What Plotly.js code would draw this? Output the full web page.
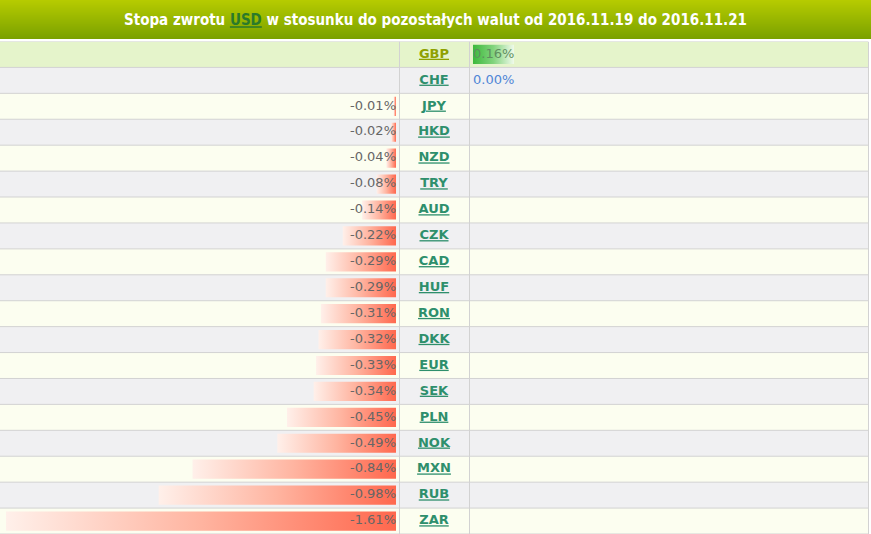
<!DOCTYPE html>
<html>
<head>
<meta charset="utf-8">
<script src="https://cdn.plot.ly/plotly-3.0.1.min.js"></script>
<style>html,body{margin:0;padding:0;background:#fff;}#chart{width:871px;height:534px;}</style>
</head>
<body>
<div id="chart"></div>
<script>
// ---- data ----
const currencies = ['GBP','CHF','JPY','HKD','NZD','TRY','AUD','CZK','CAD','HUF','RON','DKK','EUR','SEK','PLN','NOK','MXN','RUB','ZAR'];
const returns = [0.16, 0.00, -0.01, -0.02, -0.04, -0.08, -0.14, -0.22, -0.29, -0.29, -0.31, -0.32, -0.33, -0.34, -0.45, -0.49, -0.84, -0.98, -1.61];
const baseCurrency = 'USD';
const dateFrom = '2016.11.19';
const dateTo = '2016.11.21';

// ---- geometry / style ----
const W = 871, H = 534;
const headerH = 41.5;          // title bar area (px)
const colA = 399, colB = 469;   // column dividers (px)
const rowHalf = 0.37;           // bar half height in row units
const n = currencies.length;
const rows = currencies.map((_, i) => i);

const traces = [];

// bars
returns.forEach((v, i) => {
  if (v === 0) return;
  const neg = v < 0;
  traces.push({
    type: 'scatter', mode: 'none', fill: 'toself', hoverinfo: 'skip', showlegend: false,
    x: [v, 0, 0, v, v],
    y: [i - rowHalf, i - rowHalf, i + rowHalf, i + rowHalf, i - rowHalf],
    xaxis: neg ? 'x' : 'x2', yaxis: 'y',
    fillgradient: {
      type: 'horizontal',
      colorscale: neg
        ? [[0, 'rgb(255,240,234)'], [0.5, 'rgb(255,180,160)'], [1, 'rgb(255,104,78)']]
        : [[0, 'rgb(60,185,60)'], [0.5, 'rgb(130,212,125)'], [1, 'rgb(240,250,235)']]
    }
  });
});

// negative labels (left column)
const negIdx = rows.filter(i => returns[i] < 0);
traces.push({
  type: 'scatter', mode: 'text', hoverinfo: 'skip', showlegend: false,
  x: negIdx.map(() => 0), y: negIdx,
  text: negIdx.map(i => returns[i].toFixed(2) + '%'),
  textposition: 'middle left',
  textfont: {family: 'DejaVu Sans, Verdana, sans-serif', size: 13, color: '#666666'},
  xaxis: 'x', yaxis: 'y'
});

// non-negative labels (right column)
const posIdx = rows.filter(i => returns[i] >= 0);
traces.push({
  type: 'scatter', mode: 'text', hoverinfo: 'skip', showlegend: false,
  x: posIdx.map(() => 0), y: posIdx,
  text: posIdx.map(i => returns[i].toFixed(2) + '%'),
  textposition: 'middle right',
  textfont: {family: 'DejaVu Sans, Verdana, sans-serif', size: 13,
             color: posIdx.map(i => returns[i] > 0 ? '#5f8f5f' : '#4f86d6')},
  xaxis: 'x2', yaxis: 'y'
});

// currency codes (middle column)
traces.push({
  type: 'scatter', mode: 'text', hoverinfo: 'skip', showlegend: false,
  x: rows.map(() => 0.5), y: rows,
  text: currencies.map(c => '<u>' + c + '</u>'),
  textposition: 'middle center',
  textfont: {family: 'DejaVu Sans, Verdana, sans-serif', size: 13, weight: 'bold',
             color: rows.map(i => i === 0 ? '#8ea000' : '#2e8f6c')},
  xaxis: 'x3', yaxis: 'y'
});

// ---- shapes ----
const shapes = [];
// title gradient bar
const gradTop = [182, 203, 0], gradBot = [122, 161, 0];
const barPx = 39;
for (let k = 0; k < barPx; k++) {
  const t = k / (barPx - 1);
  const c = gradTop.map((a, j) => Math.round(a + (gradBot[j] - a) * t));
  shapes.push({type: 'rect', xref: 'paper', yref: 'paper', layer: 'below',
    x0: 0, x1: 1, y0: 1 - (k + 1) / H, y1: 1 - k / H,
    fillcolor: 'rgb(' + c.join(',') + ')', line: {width: 0}});
}
// row backgrounds
rows.forEach(i => {
  const fill = i === 0 ? '#e5f4cb' : (i % 2 === 1 ? '#f0f0f2' : '#fcfef0');
  shapes.push({type: 'rect', xref: 'paper', yref: 'y', layer: 'below',
    x0: 0, x1: 868 / W, y0: i - 0.5, y1: i + 0.5, fillcolor: fill, line: {width: 0}});
});
// horizontal row borders
for (let i = 0; i <= n; i++) {
  shapes.push({type: 'line', xref: 'paper', yref: 'y', layer: 'below',
    x0: 0, x1: 868 / W, y0: i - 0.5, y1: i - 0.5, line: {color: '#d2d2d2', width: 1}});
}
// vertical borders
[colA + 0.5, colB + 0.5, 868.5].forEach(px => {
  shapes.push({type: 'line', xref: 'paper', yref: 'y', layer: 'below',
    x0: px / W, x1: px / W, y0: -0.5, y1: n - 0.5, line: {color: '#d2d2d2', width: 1}});
});

const hidden = {showgrid: false, zeroline: false, showticklabels: false, showline: false, ticks: '', fixedrange: true};

const layout = {
  width: W, height: H,
  margin: {l: 0, r: 0, t: 0, b: 0, pad: 0},
  paper_bgcolor: '#ffffff', plot_bgcolor: 'rgba(0,0,0,0)',
  showlegend: false,
  title: {
    text: 'Stopa zwrotu <span style="color:#2a7a2a"><u>' + baseCurrency + '</u></span> w stosunku do pozostałych walut od ' + dateFrom + ' do ' + dateTo,
    x: 0.5, xanchor: 'center', y: 1 - 20 / H, yanchor: 'middle',
    font: {family: 'DejaVu Sans Condensed, DejaVu Sans, sans-serif', size: 15, weight: 'bold', color: '#ffffff'}
  },
  xaxis: Object.assign({}, hidden, {domain: [0, colA / W], range: [-1.635, 0.0124], anchor: 'y'}),
  xaxis2: Object.assign({}, hidden, {domain: [colB / W, 1], range: [-0.0156, 1.555], anchor: 'y'}),
  xaxis3: Object.assign({}, hidden, {domain: [colA / W, colB / W], range: [0, 1], anchor: 'y'}),
  yaxis: Object.assign({}, hidden, {domain: [0, (H - headerH) / H], range: [n - 0.5, -0.5]}),
  shapes: shapes
};

Plotly.newPlot('chart', traces, layout, {displayModeBar: false, staticPlot: true});
</script>
</body>
</html>
